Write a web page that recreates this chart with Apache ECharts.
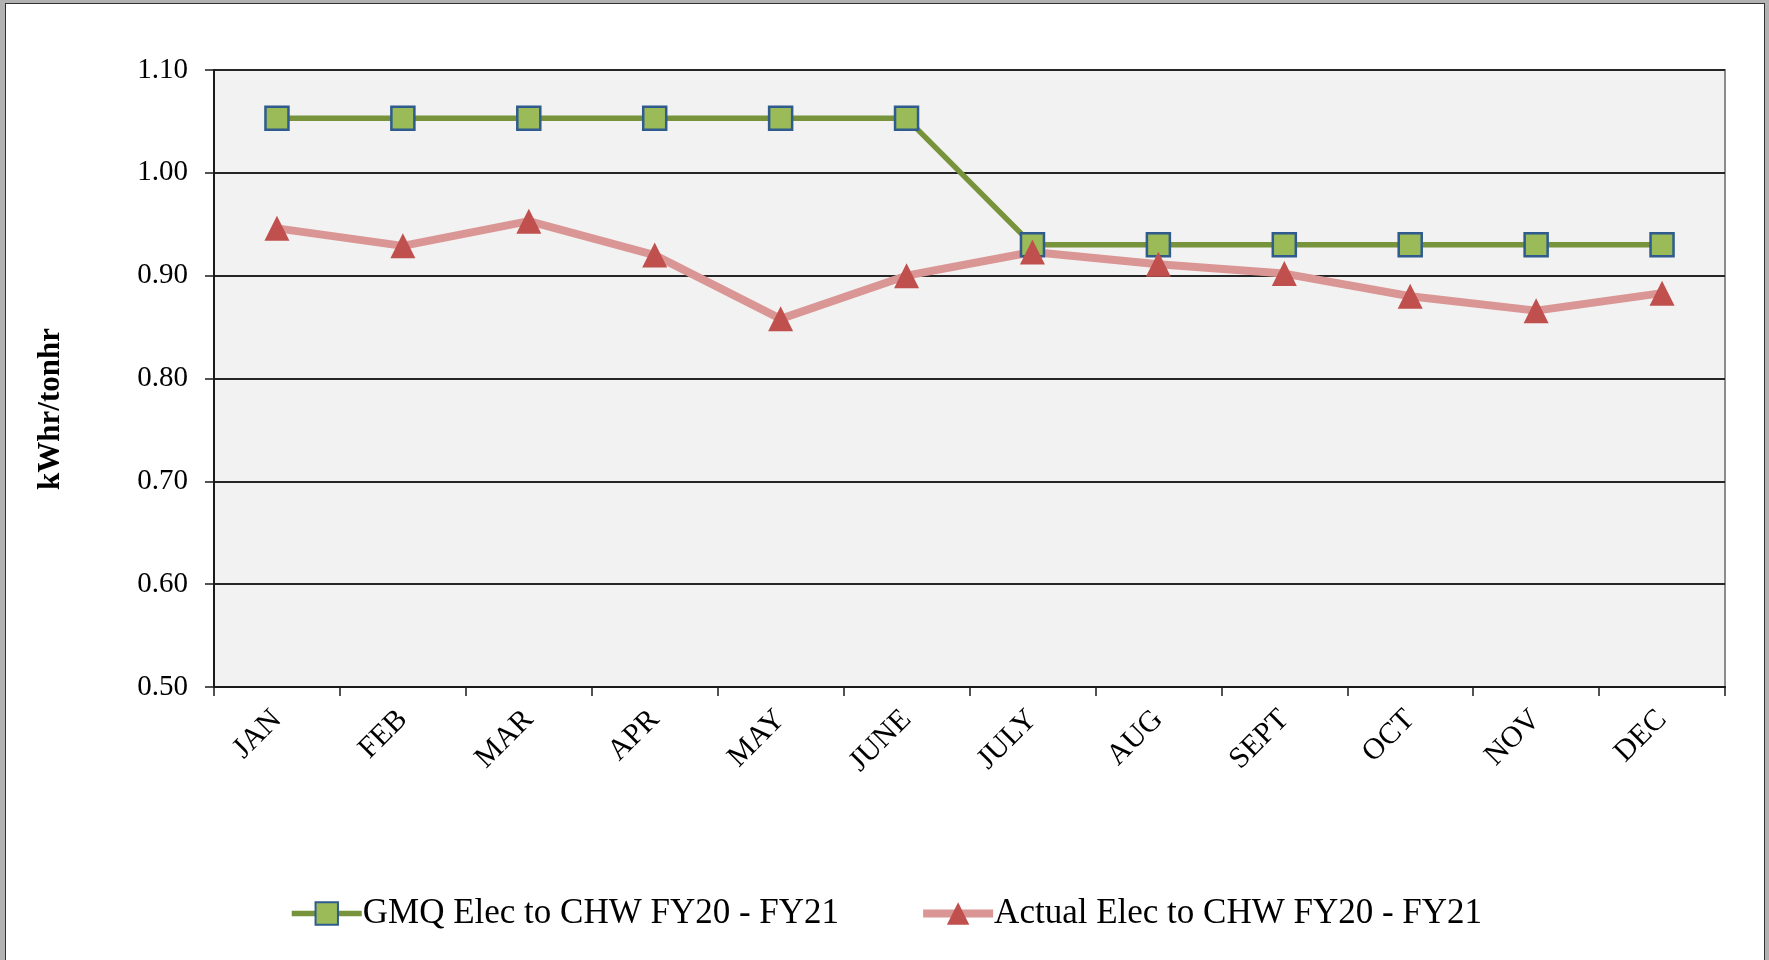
<!DOCTYPE html>
<html>
<head>
<meta charset="utf-8">
<title>kWhr/tonhr</title>
<script src="https://cdn.jsdelivr.net/npm/echarts@6/dist/echarts.min.js"></script>
<style>
    html, body { margin: 0; padding: 0; background: #b2b2b2; overflow: hidden; }
    #frame { position: absolute; left: 5px; top: 3px; width: 1758px; height: 1000px; background: #fff; border: 1px solid #333; }
    #chart { position: absolute; left: 0; top: 0; width: 1769px; height: 960px; }
</style>
</head>
<body>
<div id="frame"></div>
<div id="chart"></div>
<script>
// 月份
var months = ["JAN", "FEB", "MAR", "APR", "MAY", "JUNE", "JULY", "AUG", "SEPT", "OCT", "NOV", "DEC"];
// GMQ 目标值
var gmq = [1.053, 1.053, 1.053, 1.053, 1.053, 1.053, 0.93, 0.93, 0.93, 0.93, 0.93, 0.93];
// 实际值
var actual = [0.946, 0.929, 0.953, 0.920, 0.858, 0.900, 0.923, 0.911, 0.902, 0.880, 0.866, 0.883];
var seriesNames = ["GMQ Elec to CHW FY20 - FY21", "Actual Elec to CHW FY20 - FY21"];

var font = "'Liberation Serif', 'Times New Roman', serif";

var myChart = echarts.init(document.getElementById("chart"));
var option = {
    backgroundColor: 'transparent',
    animation: false,
    grid: {
        left: 214,
        right: 44,
        top: 70,
        bottom: 273,
        show: true,
        backgroundColor: '#f2f2f2',
        borderColor: '#8c8c8c',
        borderWidth: 2
    },
    legend: {
        left: 284,
        top: 891,
        itemWidth: 70,
        itemHeight: 28,
        itemGap: 80,
        lineStyle: { width: 'inherit' },
        textStyle: { fontFamily: font, fontSize: 35, color: '#000', padding: [0, 0, 0, -4] },
        data: seriesNames
    },
    graphic: [
        {
            type: 'text',
            x: 51,
            y: 409,
            rotation: Math.PI / 2,
            style: {
                text: 'kWhr/tonhr',
                fontFamily: font,
                fontSize: 31,
                fontWeight: 'bold',
                fill: '#000',
                align: 'center',
                verticalAlign: 'middle'
            }
        }
    ],
    xAxis: {
        type: 'category',
        data: months,
        boundaryGap: true,
        axisLine: { lineStyle: { color: '#1a1a1a', width: 2 } },
        axisTick: { show: true, length: 9, lineStyle: { color: '#1a1a1a', width: 1.5 } },
        axisLabel: { rotate: 45, margin: 28, fontFamily: font, fontSize: 30, color: '#000' },
        splitLine: { show: false }
    },
    yAxis: {
        type: 'value',
        min: 0.5,
        max: 1.1,
        interval: 0.1,
        axisLine: { show: true, lineStyle: { color: '#1a1a1a', width: 2 } },
        axisTick: { show: true, length: 9, lineStyle: { color: '#1a1a1a', width: 1.5 } },
        axisLabel: {
            margin: 26,
            fontFamily: font,
            fontSize: 29,
            color: '#000',
            formatter: function (v) { return v.toFixed(2); }
        },
        splitLine: { show: true, lineStyle: { color: '#262626', width: 2 } }
    },
    series: [
        {
            name: seriesNames[0],
            type: 'line',
            data: gmq,
            symbol: 'rect',
            symbolSize: 23,
            lineStyle: { color: '#77933c', width: 5.5 },
            itemStyle: { color: '#9bbb59', borderColor: '#2f5b8e', borderWidth: 2.5 },
            emphasis: { disabled: true }
        },
        {
            name: seriesNames[1],
            type: 'line',
            data: actual,
            symbol: 'triangle',
            symbolSize: [25, 25],
            lineStyle: { color: '#da9694', width: 8 },
            itemStyle: { color: '#c0504d', borderWidth: 0 },
            emphasis: { disabled: true }
        }
    ]
};
myChart.setOption(option);
</script>
</body>
</html>
